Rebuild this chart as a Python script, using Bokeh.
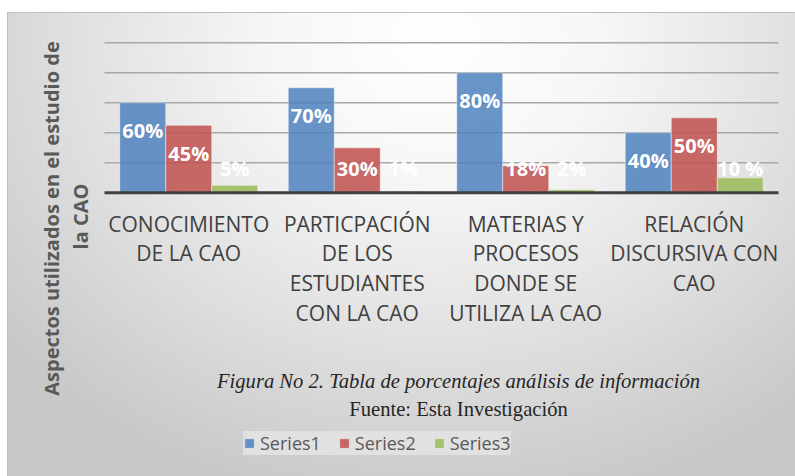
import math
from bokeh.plotting import figure
from bokeh.models import Range1d, Legend, Label, LegendItem, ColumnDataSource
from bokeh.core.properties import value
from bokeh.embed import file_html
from bokeh.resources import INLINE

# ---------------- data ----------------
categories = ["CONOCIMIENTO DE LA CAO",
              "PARTICPACIÓN DE LOS ESTUDIANTES CON LA CAO",
              "MATERIAS Y PROCESOS DONDE SE UTILIZA LA CAO",
              "RELACIÓN DISCURSIVA CON CAO"]
category_label_lines = [["CONOCIMIENTO", "DE LA CAO"],
                        ["PARTICPACIÓN", "DE LOS", "ESTUDIANTES", "CON LA CAO"],
                        ["MATERIAS Y", "PROCESOS", "DONDE SE", "UTILIZA LA CAO"],
                        ["RELACIÓN", "DISCURSIVA CON", "CAO"]]
series_names = ["Series1", "Series2", "Series3"]
series1 = [60, 70, 80, 40]
series2 = [45, 30, 18, 50]
series3 = [5, 1, 2, 10]
labels1 = ["60%", "70%", "80%", "40%"]
labels2 = ["45%", "30%", "18%", "50%"]
labels3 = ["5%", "1%", "2%", "10 %"]
y_ticks = [20, 40, 60, 80, 100]
y_axis_title_1 = "Aspectos utilizados en el estudio de"
y_axis_title_2 = "la CAO"
caption_1 = "Figura No 2. Tabla de porcentajes análisis de información"
caption_2 = "Fuente: Esta Investigación"

colors = ["#4F81BD", "#C0504D", "#9BBB59"]
BODY = "Open Sans"

# ---------------- geometry (pixels) ----------------
W, H = 788, 464                 # canvas size
PLOT_LEFT, PLOT_W = 97, 674     # plot area inside the canvas
BASE_Y = 180.3                  # baseline distance from canvas top
PX_PER_UNIT = 1.5               # vertical pixels per percent
cat_px = PLOT_W / len(categories)

x_start = -PLOT_LEFT / cat_px
x_end = (W - PLOT_LEFT) / cat_px
y_end = BASE_Y / PX_PER_UNIT
y_start = -(H - BASE_Y) / PX_PER_UNIT

p = figure(x_range=Range1d(x_start, x_end), y_range=Range1d(y_start, y_end),
           width=W, height=H, min_border=0,
           x_axis_location=None, y_axis_location=None,
           output_backend="svg", toolbar_location=None)

p.styles = {
    "margin-top": "12px",
    "margin-left": "7px",
    "background": "radial-gradient(ellipse 560px 470px at 430px 30px, "
                  "#ffffff 0%, #f6f6f6 30%, #e2e2e2 62%, #d2d2d2 85%, #c8c8c8 100%)",
    "box-shadow": "inset 1px 1px 0 #bdbdbd",
}
p.border_fill_color = None
p.background_fill_color = None
p.outline_line_color = None
for g in p.grid:
    g.visible = False

n_cat = len(categories)

# horizontal gridlines across the plot area only
p.segment(x0=0, x1=n_cat, y0=y_ticks, y1=y_ticks,
          line_color="#a8a8a8", line_width=1.5)

bw = 0.273
offsets = [-bw, 0.0, bw]
series = [series1, series2, series3]
labels = [labels1, labels2, labels3]
cat_x = [i + 0.5 for i in range(n_cat)]
renderers = []
label_sources = []
for vals, labs, off, col in zip(series, labels, offsets, colors):
    ly = [max(v - 18.7, 16.2) for v in vals]
    src = ColumnDataSource(dict(x=[c + off for c in cat_x], v=vals, lab=labs, ly=ly))
    r = p.vbar(x="x", top="v", bottom=0, width=bw, source=src,
               fill_color=col, fill_alpha=0.85,
               line_color="white", line_alpha=0.45, line_width=1)
    renderers.append(r)
    label_sources.append(src)

# baseline (category axis line)
p.segment(x0=0, x1=n_cat, y0=0, y1=0, line_color="#404040", line_width=3)

for src in label_sources:
    p.text(x="x", y="ly", text="lab", source=src,
           text_align="center", text_baseline="middle", text_color="white",
           text_font=value(BODY), text_font_style="bold", text_font_size="20px")

# category labels (one text per line)
first_line_px = 30.7
line_px = 29.7
lx, ly_, lt = [], [], []
for c, lines in zip(cat_x, category_label_lines):
    for i, t in enumerate(lines):
        lx.append(c)
        ly_.append(-(first_line_px + i * line_px) / PX_PER_UNIT)
        lt.append(t)
p.text(x=lx, y=ly_, text=lt, text_align="center", text_baseline="middle",
       text_color="#404040", text_font=value(BODY), text_font_size="21px")

# y-axis title (two lines)
title_style = dict(x_units="screen", y_units="screen", angle=math.pi / 2,
                   text_font=BODY, text_font_style="bold", text_font_size="20px",
                   text_color="#595959", text_align="center",
                   text_baseline="middle")
p.add_layout(Label(x=44, y=258, text=y_axis_title_1, **title_style))
p.add_layout(Label(x=73, y=260, text=y_axis_title_2, **title_style))

# captions
cap_style = dict(x_units="screen", y_units="screen", text_font="Liberation Serif",
                 text_font_size="20.6px", text_color="#262626",
                 text_align="center", text_baseline="middle")
p.add_layout(Label(x=451, y=95.5, text=caption_1, text_font_style="italic",
                   **cap_style))
p.add_layout(Label(x=451, y=67.5, text=caption_2, text_font_style="normal",
                   **cap_style))

legend = Legend(items=[LegendItem(label=n, renderers=[r])
                       for n, r in zip(series_names, renderers)],
                orientation="horizontal", location=(236, 21),
                label_text_font=BODY, label_text_font_size="18px",
                label_text_color="#595959", glyph_width=12, glyph_height=12,
                label_standoff=5, label_width=60, spacing=17, padding=13,
                margin=0, background_fill_color="#e1e1e1",
                background_fill_alpha=1, border_line_color=None)
p.add_layout(legend, "center")

open("out.html", "w").write(file_html(p, INLINE))
